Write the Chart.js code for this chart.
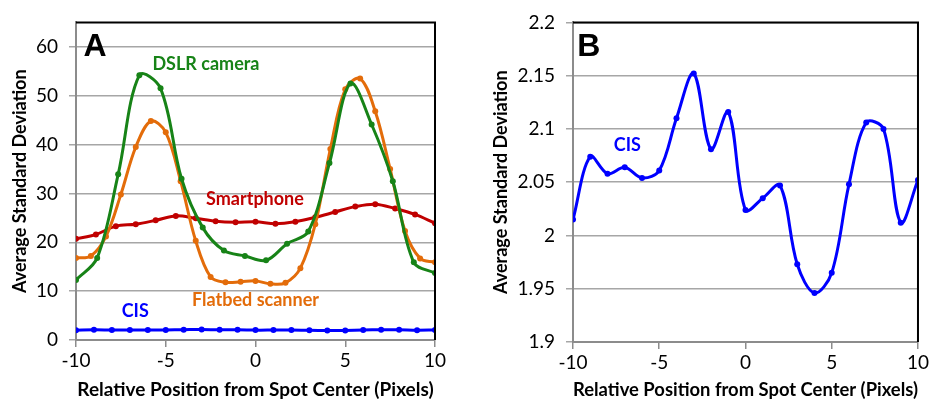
<!DOCTYPE html>
<html>
<head>
<meta charset="utf-8">
<script src="https://cdn.jsdelivr.net/npm/chart.js@4.4.1/dist/chart.umd.min.js"></script>
<style>
  html, body { margin: 0; padding: 0; background: #fff; }
  #wrap { position: relative; width: 931px; height: 407px; }
  canvas { position: absolute; top: 0; }
  #chartA { left: 0; }
  #chartB { left: 465px; }
</style>
</head>
<body>
<div id="wrap">
  <canvas id="chartA" width="465" height="407"></canvas>
  <canvas id="chartB" width="466" height="407"></canvas>
</div>
<script>
// x positions (pixels from spot center) — each device has its own sampling
const dslrX = [-10, -8.82, -7.65, -6.47, -5.29, -4.12, -2.94, -1.76, -0.59, 0.59, 1.76, 2.94, 4.12, 5.29, 6.47, 7.65, 8.82, 10];
const dslrY = [12.3, 16.8, 33.9, 54.2, 51.5, 33, 23, 18.3, 17.2, 16.3, 19.7, 22.2, 36.2, 52.5, 44.1, 32.5, 15.9, 13.7];

const flatbedX = [-10, -9.17, -8.33, -7.5, -6.67, -5.83, -5, -4.17, -3.33, -2.5, -1.67, -0.83, 0, 0.83, 1.67, 2.5, 3.33, 4.17, 5, 5.83, 6.67, 7.5, 8.33, 9.17, 10];
const flatbedY = [16.8, 17.2, 21.2, 29.8, 39.5, 44.8, 42.5, 32.5, 20.3, 12.9, 11.8, 11.9, 12.1, 11.5, 11.7, 14.7, 23.7, 39.1, 51.3, 53.5, 46.8, 35, 22.3, 16.7, 15.9];

const phoneX = [-10, -8.89, -7.78, -6.67, -5.56, -4.44, -3.33, -2.22, -1.11, 0, 1.11, 2.22, 3.33, 4.44, 5.56, 6.67, 7.78, 8.89, 10];
const phoneY = [20.7, 21.6, 23.3, 23.7, 24.5, 25.4, 24.9, 24.3, 24.1, 24.2, 23.8, 24.2, 25.1, 26.2, 27.3, 27.8, 26.9, 25.7, 23.9];

const cisX = [-10, -9, -8, -7, -6, -5, -4, -3, -2, -1, 0, 1, 2, 3, 4, 5, 6, 7, 8, 9, 10];
const cisY = [2.015, 2.074, 2.058, 2.064, 2.054, 2.061, 2.110, 2.152, 2.081, 2.116, 2.024, 2.035, 2.047, 1.973, 1.946, 1.965, 2.048, 2.106, 2.100, 2.012, 2.052];

const xTicks = [-10, -5, 0, 5, 10];
const yTicksA = [0, 10, 20, 30, 40, 50, 60];
const yTicksB = [1.9, 1.95, 2, 2.05, 2.1, 2.15, 2.2];

const GREEN = "#178317";
const ORANGE = "#E36C0A";
const RED = "#C00000";
const BLUE = "#0000FF";
const GRID = "#A6A6A6";
const AXIS = "#8C8C8C";

const FONT = "Lato, 'Open Sans', sans-serif";

function pts(xs, ys) {
  return xs.map((x, i) => ({ x, y: ys[i] }));
}

function line(data, color) {
  return {
    data,
    borderColor: color,
    backgroundColor: color,
    borderWidth: 3,
    pointRadius: 3,
    pointBorderWidth: 0,
    pointBackgroundColor: color,
    tension: 0.35,
    fill: false,
  };
}

// frame (black top/right border) + in-plot text labels
const decorations = {
  id: "decorations",
  afterDatasetsDraw(chart, args, opts) {
    const { ctx, chartArea: a, scales } = chart;
    ctx.save();
    ctx.strokeStyle = "#000";
    ctx.lineWidth = 2;
    ctx.beginPath();
    ctx.moveTo(a.left, a.top);
    ctx.lineTo(a.right, a.top);
    ctx.lineTo(a.right, a.bottom);
    ctx.stroke();
    ctx.textAlign = "center";
    ctx.textBaseline = "middle";
    (opts.notes || []).forEach((n) => {
      ctx.fillStyle = n.color;
      ctx.font = n.font;
      ctx.fillText(n.text, scales.x.getPixelForValue(n.x), scales.y.getPixelForValue(n.y));
    });
    ctx.restore();
  },
};

function options(cfg) {
  return {
    responsive: false,
    animation: false,
    devicePixelRatio: 1,
    layout: { padding: cfg.padding },
    plugins: {
      legend: { display: false },
      tooltip: { enabled: false },
      decorations: { notes: cfg.notes },
    },
    scales: {
      x: {
        type: "linear",
        min: -10,
        max: 10,
        afterBuildTicks: (s) => { s.ticks = xTicks.map((v) => ({ value: v })); },
        afterFit: (s) => { s.height = cfg.xHeight; },
        grid: { drawOnChartArea: false, color: AXIS, lineWidth: 1.5, tickLength: 7 },
        border: { color: AXIS, width: 2 },
        ticks: { color: "#000", font: { family: FONT, size: 19 }, padding: 2, maxRotation: 0 },
        title: {
          display: true,
          text: "Relative Position from Spot Center (Pixels)",
          color: "#000",
          font: { family: FONT, size: 19, weight: "bold" },
          padding: { top: 0, bottom: 6 },
        },
      },
      y: {
        type: "linear",
        min: cfg.yMin,
        max: cfg.yMax,
        afterBuildTicks: (s) => { s.ticks = cfg.yTicks.map((v) => ({ value: v })); },
        afterFit: (s) => { s.width = cfg.yWidth; },
        grid: { color: GRID, lineWidth: 1.5, tickLength: 7 },
        border: { color: AXIS, width: 2 },
        ticks: { color: "#000", font: { family: FONT, size: 19 }, padding: 11, callback: (v) => String(v) },
        title: {
          display: true,
          text: "Average Standard Deviation",
          color: "#000",
          font: { family: FONT, size: 18, weight: "bold" },
          padding: { top: cfg.yTitlePad, bottom: 0 },
        },
      },
    },
  };
}

const labelFont = "bold 18px " + FONT;
const letterFont = "bold 32px 'Liberation Sans', Arial, sans-serif";

new Chart(document.getElementById("chartA"), {
  type: "line",
  data: {
    datasets: [
      line(pts(dslrX, dslrY), GREEN),
      line(pts(flatbedX, flatbedY), ORANGE),
      line(pts(phoneX, phoneY), RED),
      line(pts(cisX, cisY), BLUE),
    ],
  },
  options: options({
    padding: { top: 15, right: 30, left: 0, bottom: 0 },
    xHeight: 67,
    yWidth: 76,
    yMin: 0,
    yMax: 65,
    yTicks: yTicksA,
    yTitlePad: 9,
    notes: [
      { text: "A", x: -8.94, y: 60, color: "#000", font: letterFont },
      { text: "DSLR camera", x: -2.76, y: 56.4, color: GREEN, font: labelFont },
      { text: "Smartphone", x: -0.03, y: 28.8, color: RED, font: labelFont },
      { text: "Flatbed scanner", x: 0, y: 8.2, color: ORANGE, font: labelFont },
      { text: "CIS", x: -6.7, y: 5.8, color: BLUE, font: labelFont },
    ],
  }),
  plugins: [decorations],
});

new Chart(document.getElementById("chartB"), {
  type: "line",
  data: {
    datasets: [line(pts(cisX, cisY), BLUE)],
  },
  options: options({
    padding: { top: 16, right: 13, left: 0, bottom: 0 },
    xHeight: 65,
    yWidth: 108,
    yMin: 1.9,
    yMax: 2.2,
    yTicks: yTicksB,
    yTitlePad: 25,
    notes: [
      { text: "B", x: -9.09, y: 2.1767, color: "#000", font: letterFont },
      { text: "CIS", x: -6.85, y: 2.0844, color: BLUE, font: labelFont },
    ],
  }),
  plugins: [decorations],
});
</script>
</body>
</html>
